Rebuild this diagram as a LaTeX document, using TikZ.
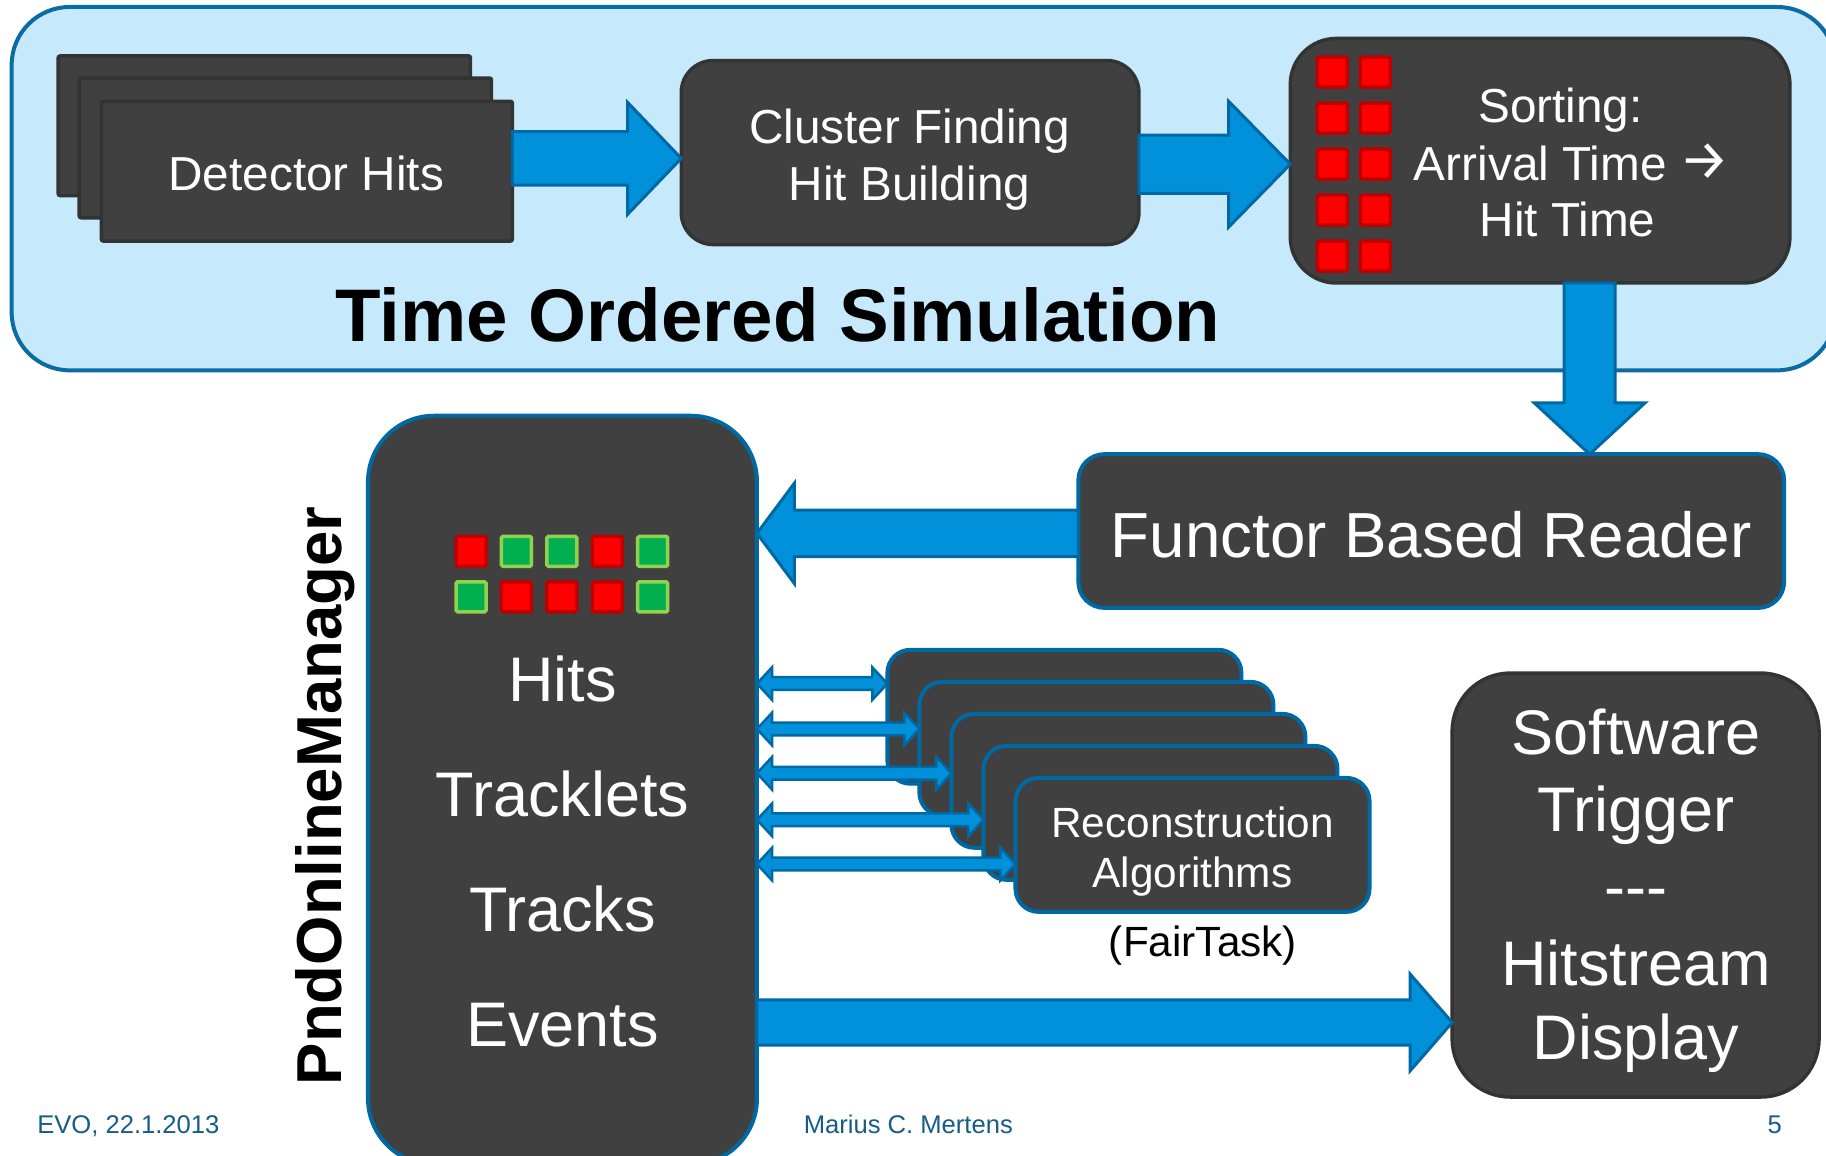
\documentclass[tikz,border=0pt]{standalone}
\usepackage{fontspec}
\setmainfont{Liberation Sans}
\newfontfamily\arrowfont{Fira Sans}
\usetikzlibrary{calc,fit}

\definecolor{panelfill}{HTML}{C6E9FB}
\definecolor{panelline}{HTML}{0B6BA3}
\definecolor{boxfill}{HTML}{404040}
\definecolor{boxline}{HTML}{333333}
\definecolor{arrowfill}{HTML}{0091DA}
\definecolor{arrowline}{HTML}{0068A3}
\definecolor{redfill}{HTML}{FF0000}
\definecolor{redline}{HTML}{C00000}
\definecolor{greenfill}{HTML}{00B050}
\definecolor{greenline}{HTML}{92D050}
\definecolor{footcol}{HTML}{165C88}

\tikzset{
  % horizontal/vertical block arrow: shaft half-width, head half-width, head length
  blockarrow/.style n args={3}{draw=arrowline, fill=arrowfill, line width=3pt, line join=miter,
    to path={
      ($(\tikztostart)!#1!90:(\tikztotarget)$)
      -- ($(\tikztotarget)!#3!(\tikztostart)!#1!-90:(\tikztostart)$)
      -- ($(\tikztotarget)!#3!(\tikztostart)!#2!-90:(\tikztostart)$)
      -- (\tikztotarget)
      -- ($(\tikztotarget)!#3!(\tikztostart)!#2!90:(\tikztostart)$)
      -- ($(\tikztotarget)!#3!(\tikztostart)!#1!90:(\tikztostart)$)
      -- ($(\tikztostart)!#1!-90:(\tikztotarget)$)
      -- cycle}},
  % block arrow with a head at both ends
  duplexarrow/.style n args={3}{draw=arrowline, fill=arrowfill, line width=2.5pt, line join=miter,
    to path={
      (\tikztostart)
      -- ($(\tikztostart)!#3!(\tikztotarget)!#2!90:(\tikztotarget)$)
      -- ($(\tikztostart)!#3!(\tikztotarget)!#1!90:(\tikztotarget)$)
      -- ($(\tikztotarget)!#3!(\tikztostart)!#1!-90:(\tikztostart)$)
      -- ($(\tikztotarget)!#3!(\tikztostart)!#2!-90:(\tikztostart)$)
      -- (\tikztotarget)
      -- ($(\tikztotarget)!#3!(\tikztostart)!#2!90:(\tikztostart)$)
      -- ($(\tikztotarget)!#3!(\tikztostart)!#1!90:(\tikztostart)$)
      -- ($(\tikztostart)!#3!(\tikztotarget)!#1!-90:(\tikztotarget)$)
      -- ($(\tikztostart)!#3!(\tikztotarget)!#2!-90:(\tikztotarget)$)
      -- cycle}},
}

\begin{document}
\begin{tikzpicture}[x=1.1645pt, y=-1.1645pt,
  every node/.style={inner sep=0pt, outer sep=0pt},
  panel/.style={draw=panelline, fill=panelfill, line width=4pt, rounded corners=58pt},
  card/.style={draw=boxline, fill=boxfill, line width=3.5pt, rounded corners=2pt},
  darkbox/.style={draw=boxline, fill=boxfill, line width=3.5pt},
  bluebox/.style={draw=arrowline, fill=boxfill, line width=4pt},
  redsq/.style={draw=redline, fill=redfill, line width=3.5pt, minimum size=30pt, rounded corners=1.5pt},
  greensq/.style={draw=greenline, fill=greenfill, line width=3.5pt, minimum size=30pt, rounded corners=1.5pt},
  wtxt/.style={text=white, anchor=base, font=\fontsize{47.7}{57}\selectfont},
  wbig/.style={text=white, anchor=base, font=\fontsize{63}{75}\selectfont},
  wsmall/.style={text=white, anchor=base, font=\fontsize{42.3}{50}\selectfont},
  btxt/.style={text=black, anchor=base, font=\fontsize{42.3}{50}\selectfont},
  foot/.style={text=footcol, anchor=base, font=\fontsize{25.6}{30}\selectfont},
]
\useasboundingbox (0,0) rectangle (1568,992);
\fill[white] (0,0) rectangle (1568,992);
\clip (0,0) rectangle (1568,992);

% ---- time ordered simulation panel ----
\node[panel, fit={(10,6) (1576,318)}] (tos) {};

% detector hit cards
\node[card, fit={(50,48) (404,168)}] (c1) {};
\node[card, fit={(68,67) (422,187)}] (c2) {};
\node[card, fit={(87,87) (440,207)}] (dh) {};
\node[wtxt] (dhtxt) at (263,164) {Detector Hits};

% cluster finding
\node[darkbox, rounded corners=32pt, fit={(585,52) (978,210)}] (cf) {};
\node[wtxt] (cf1) at (781,123) {Cluster Finding};
\node[wtxt] (cf2) at (781,172) {Hit Building};

% sorting
\node[darkbox, rounded corners=46pt, fit={(1108,33) (1537,243)}] (sort) {};
\foreach \j in {0,...,4} {
  \node[redsq] (sa\j) at (1144,62+39.5*\j) {};
  \node[redsq] (sb\j) at (1181,62+39.5*\j) {};
}
\node[wtxt] (so1) at (1340,105) {Sorting:};
\node[wtxt] (so2) at (1350,155) {Arrival Time {\arrowfont\fontsize{56}{56}\selectfont\raisebox{1pt}{→}}};
\node[wtxt] (so3) at (1346,203) {Hit Time};

\node[text=black, anchor=base, font=\bfseries\fontsize{74.5}{80}\selectfont] (title) at (668,293) {Time Ordered Simulation};

% ---- lower part ----
\node[bluebox, rounded corners=26pt, fit={(926,390) (1532,522)}] (fbr) {};
\node[text=white, anchor=base, font=\fontsize{63.7}{75}\selectfont] (fbrtxt) at (1229,479) {Functor Based Reader};

\node[bluebox, rounded corners=66pt, fit={(316,357) (650,1000)}] (pom) {};
\node[text=black, anchor=base, rotate=90, font=\bfseries\fontsize{63.5}{70}\selectfont] (pomname) at (293,683.5) {PndOnlineManager};

\foreach \i/\c in {0/redsq,1/greensq,2/greensq,3/redsq,4/greensq}
  \node[\c] (ta\i) at (404.5+39*\i,473.5) {};
\foreach \i/\c in {0/greensq,1/redsq,2/redsq,3/redsq,4/greensq}
  \node[\c] (tb\i) at (404.5+39*\i,512.5) {};

\node[wbig] (hits) at (483,602) {Hits};
\node[wbig] (trklets) at (483,701) {Tracklets};
\node[wbig] (trks) at (483,800) {Tracks};
\node[wbig] (evts) at (483,899) {Events};

% reconstruction task stack
\node[bluebox, rounded corners=23pt, fit={(762,558) (1066,673)}] (rc1) {};
\node[bluebox, rounded corners=23pt, fit={(789.5,585.5) (1093.5,700.5)}] (rc2) {};
\node[bluebox, rounded corners=23pt, fit={(817,613) (1121,728)}] (rc3) {};
\node[bluebox, rounded corners=23pt, fit={(844.5,640.5) (1148.5,755.5)}] (rc4) {};
\node[bluebox, rounded corners=23pt, fit={(872,668) (1176,783)}] (rc5) {};
\node[wsmall] (rct1) at (1024,719) {Reconstruction};
\node[wsmall] (rct2) at (1024,762) {Algorithms};
\node[btxt] (fairtask) at (1033,821) {(FairTask)};

% software trigger
\node[darkbox, rounded corners=58pt, fit={(1247,578) (1562,942)}] (swt) {};
\node[wbig] (sw1) at (1405,648) {Software};
\node[wbig] (sw2) at (1405,714) {Trigger};
\node[wbig] (sw3) at (1405,780) {-{}-{}-};
\node[wbig] (sw4) at (1405,846) {Hitstream};
\node[wbig] (sw5) at (1405,910) {Display};

% ---- connectors ----
\coordinate (a1s) at (dh.east |- 0,136);
\coordinate (a1t) at (cf.west |- 0,136);
\draw[blockarrow={26.8pt}{55.9pt}{53.6pt}] (a1s) to (a1t);

\coordinate (a2s) at (cf.east |- 0,141);
\coordinate (a2t) at (sort.west |- 0,141);
\draw[blockarrow={29.1pt}{62.9pt}{61.7pt}] (a2s) to (a2t);

\coordinate (a3s) at (sort.south -| 1365,0);
\coordinate (a3t) at (fbr.north -| 1365,0);
\draw[blockarrow={25.6pt}{55.3pt}{51.2pt}] (a3s) to (a3t);

\coordinate (a4s) at (fbr.west |- 0,458);
\coordinate (a4t) at (pom.east |- 0,458);
\draw[blockarrow={23.3pt}{50pt}{37.3pt}] (a4s) to (a4t);

\coordinate (a5s) at (pom.east |- 0,878);
\coordinate (a5t) at (swt.west |- 0,878);
\draw[blockarrow={22.7pt}{48.3pt}{42pt}] (a5s) to (a5t);

\foreach \k/\yy in {1/587,2/626,3/664,4/704,5/742} {
  \coordinate (d\k-s) at (pom.east |- 0,\yy);
  \coordinate (d\k-t) at (rc\k.west |- 0,\yy);
  \draw[duplexarrow={6.4pt}{16.3pt}{15.1pt}] (d\k-s) to (d\k-t);
}

% ---- footer ----
\node[foot, anchor=base west] (fdate) at (32,973) {EVO, 22.1.2013};
\node[foot] (fauthor) at (780,973) {Marius C. Mertens};
\node[foot] (fpage) at (1524,973) {5};
\end{tikzpicture}
\end{document}
